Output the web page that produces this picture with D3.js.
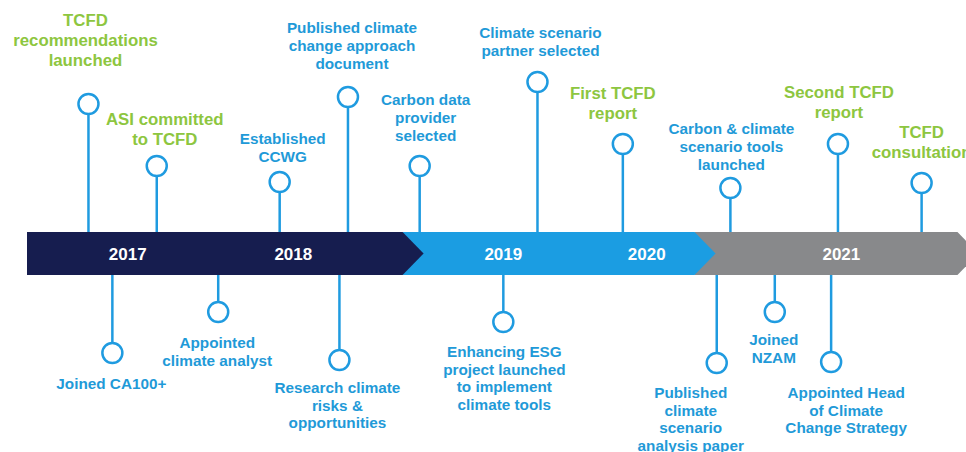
<!DOCTYPE html>
<html>
<head>
<meta charset="utf-8">
<script src="https://cdn.jsdelivr.net/npm/d3@7"></script>
<style>
  body { margin: 0; background: #fff; }
  text { font-family: "Liberation Sans", Arial, sans-serif; font-weight: bold; }
</style>
</head>
<body>
<div id="chart"></div>
<script>
// timeline positions are fractional years
var eraNames = ["2017-2018", "2019-2020", "2021"];
var eraStart = [2016.5, 2018.70, 2020.41];
var eraEnd = [2018.70, 2020.41, 2021.95];

var yearLabels = ["2017", "2018", "2019", "2020", "2021"];
var yearAt = [2017.09, 2018.06, 2019.29, 2020.13, 2021.27];

var aboveText = [
  "TCFD\nrecommendations\nlaunched",
  "ASI committed\nto TCFD",
  "Established\nCCWG",
  "Published climate\nchange approach\ndocument",
  "Carbon data\nprovider\nselected",
  "Climate scenario\npartner selected",
  "First TCFD\nreport",
  "Carbon & climate\nscenario tools\nlaunched",
  "Second TCFD\nreport",
  "TCFD\nconsultation"
];
var aboveWhen = [2016.86, 2017.26, 2017.98, 2018.38, 2018.80, 2019.49, 2019.99, 2020.62, 2021.25, 2021.74];
var aboveTcfd = [true, true, false, false, false, false, true, false, true, true];

var belowText = [
  "Joined CA100+",
  "Appointed\nclimate analyst",
  "Research climate\nrisks &\nopportunities",
  "Enhancing ESG\nproject launched\nto implement\nclimate tools",
  "Published\nclimate\nscenario\nanalysis paper",
  "Joined\nNZAM",
  "Appointed Head\nof Climate\nChange Strategy"
];
var belowWhen = [2017.00, 2017.62, 2018.33, 2019.29, 2020.54, 2020.88, 2021.21];

// layout of the pins (pixels)
var aboveStem = [128, 66, 50, 135, 66, 150, 88, 44, 88, 49];
var aboveGap = [28, 11, 10, 18, 15, 16, 15, 8, 16, 15];
var aboveDx = [-3, 8, 3, 4, 6, 3, -10, 1, 1, 0];
var belowStem = [78, 37, 85, 47, 88, 37, 87];
var belowGap = [26, 26, 23, 25, 25, 23, 26];
var belowDx = [-1, -1, -2, 1, -26, -1, 15];

var width = 966, height = 452;
var bandTop = 232, bandBottom = 275, bandMid = (bandTop + bandBottom) / 2;
var tip = 21, r = 10;
var eraColors = ["#161d4f", "#1b9de2", "#88898b"];
var pinColor = "#1f9be0", green = "#8dc640", blueText = "#1f9ad8";

var svg = d3.select("#chart").append("svg").attr("width", width).attr("height", height);

var x = d3.scaleLinear().domain([2016.5, 2022]).range([27, width]);

// band, drawn back to front so each chevron overlaps the next era
var eras = eraNames.map(function(n, i) { return {name: n, s: eraStart[i], e: eraEnd[i], c: eraColors[i]}; });
svg.selectAll("path.era").data(eras.slice().reverse()).enter()
  .append("path")
  .attr("class", "era")
  .attr("fill", function(d) { return d.c; })
  .attr("d", function(d) {
    var x0 = x(d.s), x1 = x(d.e);
    return "M" + x0 + "," + bandTop + "L" + x1 + "," + bandTop + "L" + (x1 + tip) + "," + bandMid +
      "L" + x1 + "," + bandBottom + "L" + x0 + "," + bandBottom + "Z";
  });

svg.selectAll("text.year").data(yearLabels).enter()
  .append("text")
  .attr("class", "year")
  .attr("x", function(d, i) { return x(yearAt[i]); })
  .attr("y", bandMid + 6)
  .attr("text-anchor", "middle")
  .attr("fill", "#fff")
  .style("font-size", "17px")
  .text(function(d) { return d; });

function addLines(sel, lines, lh) {
  lines.forEach(function(l, k) {
    sel.append("tspan").attr("x", sel.attr("x")).attr("dy", k === 0 ? 0 : lh).text(l);
  });
}

// pins above the band
var above = aboveText.map(function(t, i) {
  return {text: t, when: aboveWhen[i], tcfd: aboveTcfd[i], stem: aboveStem[i], gap: aboveGap[i], dx: aboveDx[i]};
});
var gA = svg.selectAll("g.above").data(above).enter().append("g").attr("class", "above");

gA.append("line")
  .attr("x1", function(d) { return x(d.when); })
  .attr("x2", function(d) { return x(d.when); })
  .attr("y1", function(d) { return bandTop - d.stem + r; })
  .attr("y2", bandTop)
  .attr("stroke", pinColor).attr("stroke-width", 2.5);

gA.append("circle")
  .attr("cx", function(d) { return x(d.when); })
  .attr("cy", function(d) { return bandTop - d.stem; })
  .attr("r", r)
  .attr("fill", "#fff").attr("stroke", pinColor).attr("stroke-width", 2.5);

gA.each(function(d) {
  var lines = d.text.split("\n");
  var lh = d.tcfd ? 20 : 18;
  var yLast = bandTop - d.stem - r - d.gap;
  var t = d3.select(this).append("text")
    .attr("x", x(d.when) + d.dx)
    .attr("y", yLast - (lines.length - 1) * lh)
    .attr("text-anchor", "middle")
    .attr("fill", d.tcfd ? green : blueText)
    .style("font-size", d.tcfd ? "16.8px" : "15.3px");
  addLines(t, lines, lh);
});

// pins below the band
var below = belowText.map(function(t, i) {
  return {text: t, when: belowWhen[i], stem: belowStem[i], gap: belowGap[i], dx: belowDx[i]};
});
var gB = svg.selectAll("g.below").data(below).enter().append("g").attr("class", "below");

gB.append("line")
  .attr("x1", function(d) { return x(d.when); })
  .attr("x2", function(d) { return x(d.when); })
  .attr("y1", bandBottom)
  .attr("y2", function(d) { return bandBottom + d.stem - r; })
  .attr("stroke", pinColor).attr("stroke-width", 2.5);

gB.append("circle")
  .attr("cx", function(d) { return x(d.when); })
  .attr("cy", function(d) { return bandBottom + d.stem; })
  .attr("r", r)
  .attr("fill", "#fff").attr("stroke", pinColor).attr("stroke-width", 2.5);

gB.each(function(d) {
  var lines = d.text.split("\n");
  var t = d3.select(this).append("text")
    .attr("x", x(d.when) + d.dx)
    .attr("y", bandBottom + d.stem + r + d.gap)
    .attr("text-anchor", "middle")
    .attr("fill", blueText)
    .style("font-size", "15.3px");
  addLines(t, lines, 17.5);
});
</script>
</body>
</html>
